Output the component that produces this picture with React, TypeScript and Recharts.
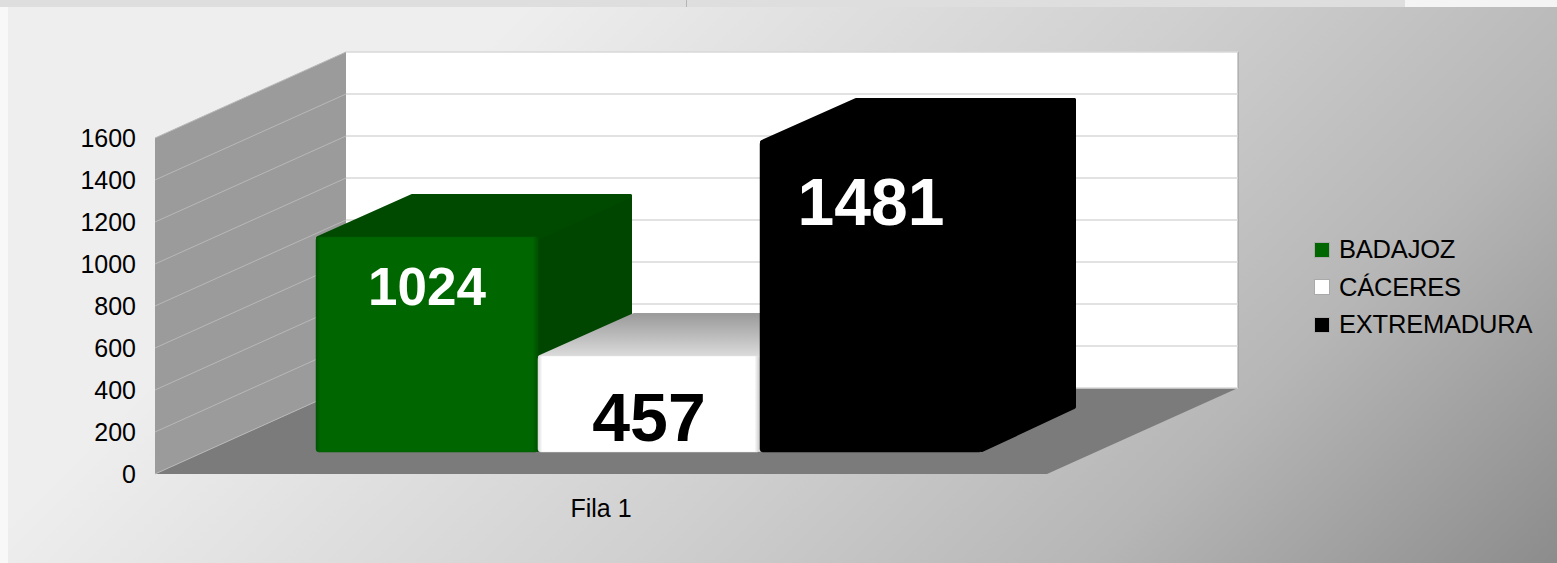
import React from "react";
import { BarChart, Bar, XAxis, YAxis, CartesianGrid, Legend, LabelList } from "recharts";

const categories = ["Fila 1"];
const seriesNames = ["BADAJOZ", "CÁCERES", "EXTREMADURA"];
const badajozValues = [1024];
const caceresValues = [457];
const extremaduraValues = [1481];
const yTicks = [0, 200, 400, 600, 800, 1000, 1200, 1400, 1600];

const rows = categories.map((name, i) => ({
  name,
  [seriesNames[0]]: badajozValues[i],
  [seriesNames[1]]: caceresValues[i],
  [seriesNames[2]]: extremaduraValues[i],
}));

const W = 1557;
const H = 563;
const FONT = "'Liberation Sans', Arial, sans-serif";
const LEGEND_W = 230;
const PLOT = { left: 155, top: 138, right: 1047, bottom: 474 };
const WALL = { dx: 191, dy: -86 };
const BAR_FRONT = { dx: 48, dy: -22 };
const BAR_DEPTH = { dx: 94, dy: -43 };
const ROUND = 2;

const pts = (list: number[][]) => list.map((p) => p.join(",")).join(" ");

type Look = { front: string; top: string; side: string; edge: string; size: number; drop: number; text: string };
const looks: Look[] = [
  { front: "url(#frontGreen)", top: "#004a00", side: "#004600", edge: "#005a00", size: 53, drop: 68, text: "#ffffff" },
  { front: "url(#frontWhite)", top: "url(#topWhite)", side: "#c8c8c8", edge: "#e4e4e4", size: 68, drop: 84.5, text: "#000000" },
  { front: "#000000", top: "#000000", side: "#000000", edge: "#000000", size: 66, drop: 84, text: "#ffffff" },
];

const makeShape = (look: Look) => (props: any) => {
  const x = props.x + BAR_FRONT.dx;
  const y = props.y + BAR_FRONT.dy;
  const w = props.width;
  const h = props.height;
  const { dx, dy } = BAR_DEPTH;
  const q = ROUND;
  return (
    <g>
      <polygon
        points={pts([[x + w, y + q], [x + w + dx - q, y + dy + q], [x + w + dx - q, y + h + dy - q], [x + w, y + h - q]])}
        fill={look.side}
        stroke={look.side}
        strokeWidth={q * 2}
        strokeLinejoin="round"
      />
      <polygon
        points={pts([[x + q, y + 1], [x + dx + q, y + dy + q], [x + w + dx - q, y + dy + q], [x + w, y + 1]])}
        fill={look.top}
        stroke={look.top}
        strokeWidth={q * 2}
        strokeLinejoin="round"
      />
      <rect x={x} y={y} width={w} height={h} rx={3} fill={look.front} stroke={look.edge} strokeWidth={0.5} />
    </g>
  );
};

const makeLabel = (look: Look) => (props: any) => (
  <text
    x={props.x + BAR_FRONT.dx + props.width / 2}
    y={props.y + BAR_FRONT.dy + look.drop}
    textAnchor="middle"
    fontFamily={FONT}
    fontWeight={700}
    fontSize={look.size}
    fill={look.text}
  >
    {props.value}
  </text>
);

const gridLine = (props: any) => {
  const y = props.y1;
  const { left: l, top: t, right: r, bottom: b } = PLOT;
  const { dx, dy } = WALL;
  return (
    <g key={props.key ?? y}>
      {props.index === 0 ? (
        <g>
          <polygon points={pts([[l, t], [l + dx, t + dy], [l + dx, b + dy], [l, b]])} fill="#9b9b9b" />
          <polygon points={pts([[l + dx, t + dy], [r + dx, t + dy], [r + dx, b + dy], [l + dx, b + dy]])} fill="#ffffff" />
          <polygon points={pts([[l, b], [r, b], [r + dx, b + dy], [l + dx, b + dy]])} fill="#7b7b7b" />
          <line x1={r + dx} y1={t + dy} x2={r + dx} y2={b + dy} stroke="#9a9a9a" strokeWidth={1} />
        </g>
      ) : null}
      <line x1={l} y1={y} x2={l + dx} y2={y + dy} stroke="#b8b8b8" strokeWidth={1} />
      <line x1={l + dx} y1={y + dy} x2={r + dx} y2={y + dy} stroke="#d9d9d9" strokeWidth={1.5} />
    </g>
  );
};

const LegendBox = (props: any) => (
  <div style={{ width: LEGEND_W, fontFamily: FONT, fontSize: 25.5, color: "#000" }}>
    {(props.payload ?? []).map((item: any) => (
      <div key={item.value} style={{ display: "flex", alignItems: "center", height: 37.5, letterSpacing: -0.2 }}>
        <span
          style={{
            width: 16,
            height: 16,
            background: item.color,
            border: "0.5px solid #aaa",
            boxSizing: "border-box",
            marginRight: 9,
            flex: "none",
          }}
        />
        <span style={{ whiteSpace: "nowrap" }}>{item.value}</span>
      </div>
    ))}
  </div>
);

const swatches = ["#006600", "#ffffff", "#000000"];

export default function App() {
  const { left: l, top: t, right: r, bottom: b } = PLOT;
  return (
    <div
      style={{
        position: "absolute",
        left: 0,
        top: 0,
        width: W,
        height: H,
        overflow: "hidden",
        background:
          "linear-gradient(135deg, #eeeeee 0%, #eeeeee 25%, #cfcfcf 57%, #b6b6b6 78%, #8c8c8c 100%)",
      }}
    >
      <div style={{ position: "absolute", left: 0, top: 0, width: 1405, height: 7, background: "#dedede" }} />
      <div style={{ position: "absolute", left: 686, top: 0, width: 1, height: 7, background: "#b5b5b5" }} />
      <div style={{ position: "absolute", left: 1405, top: 0, width: 152, height: 7, background: "#f4f4f4" }} />
      <div style={{ position: "absolute", left: 0, top: 7, width: 8, height: 556, background: "#f8f8f8" }} />
      <div style={{ position: "absolute", left: 0, top: 0 }}>
        <BarChart
          width={W}
          height={H}
          data={rows}
          barCategoryGap={113}
          barGap={0}
          margin={{ top: t, left: l - 60, right: W - r - LEGEND_W, bottom: H - b - 40 }}
        >
          <defs>
            <linearGradient id="frontGreen" x1="0" y1="0" x2="1" y2="0">
              <stop offset="0" stopColor="#005400" />
              <stop offset="0.02" stopColor="#006600" />
              <stop offset="0.975" stopColor="#006600" />
              <stop offset="1" stopColor="#005000" />
            </linearGradient>
            <linearGradient id="frontWhite" x1="0" y1="0" x2="1" y2="0">
              <stop offset="0" stopColor="#d8d8d8" />
              <stop offset="0.02" stopColor="#ffffff" />
              <stop offset="0.975" stopColor="#ffffff" />
              <stop offset="1" stopColor="#c8c8c8" />
            </linearGradient>
            <linearGradient id="topWhite" x1="0" y1="0" x2="0" y2="1">
              <stop offset="0" stopColor="#9c9c9c" />
              <stop offset="1" stopColor="#dcdcdc" />
            </linearGradient>
          </defs>
          <CartesianGrid vertical={false} horizontal={gridLine} />
          <XAxis
            dataKey="name"
            axisLine={false}
            tickLine={false}
            height={40}
            tickMargin={19}
            tick={{ fontFamily: FONT, fontSize: 25, fill: "#000" }}
          />
          <YAxis
            domain={[0, 1600]}
            ticks={yTicks}
            interval={0}
            width={60}
            axisLine={false}
            tickLine={false}
            tickMargin={13}
            tick={{ fontFamily: FONT, fontSize: 25, fill: "#000" }}
          />
          <Legend
            layout="vertical"
            align="right"
            verticalAlign="middle"
            content={<LegendBox />}
            wrapperStyle={{ left: 1314, top: 231, right: "auto", bottom: "auto", width: LEGEND_W }}
          />
          {seriesNames.map((name, i) => (
            <Bar
              key={name}
              dataKey={name}
              fill={swatches[i]}
              isAnimationActive={false}
              shape={makeShape(looks[i])}
            >
              <LabelList dataKey={name} content={makeLabel(looks[i])} />
            </Bar>
          ))}
        </BarChart>
      </div>
    </div>
  );
}
